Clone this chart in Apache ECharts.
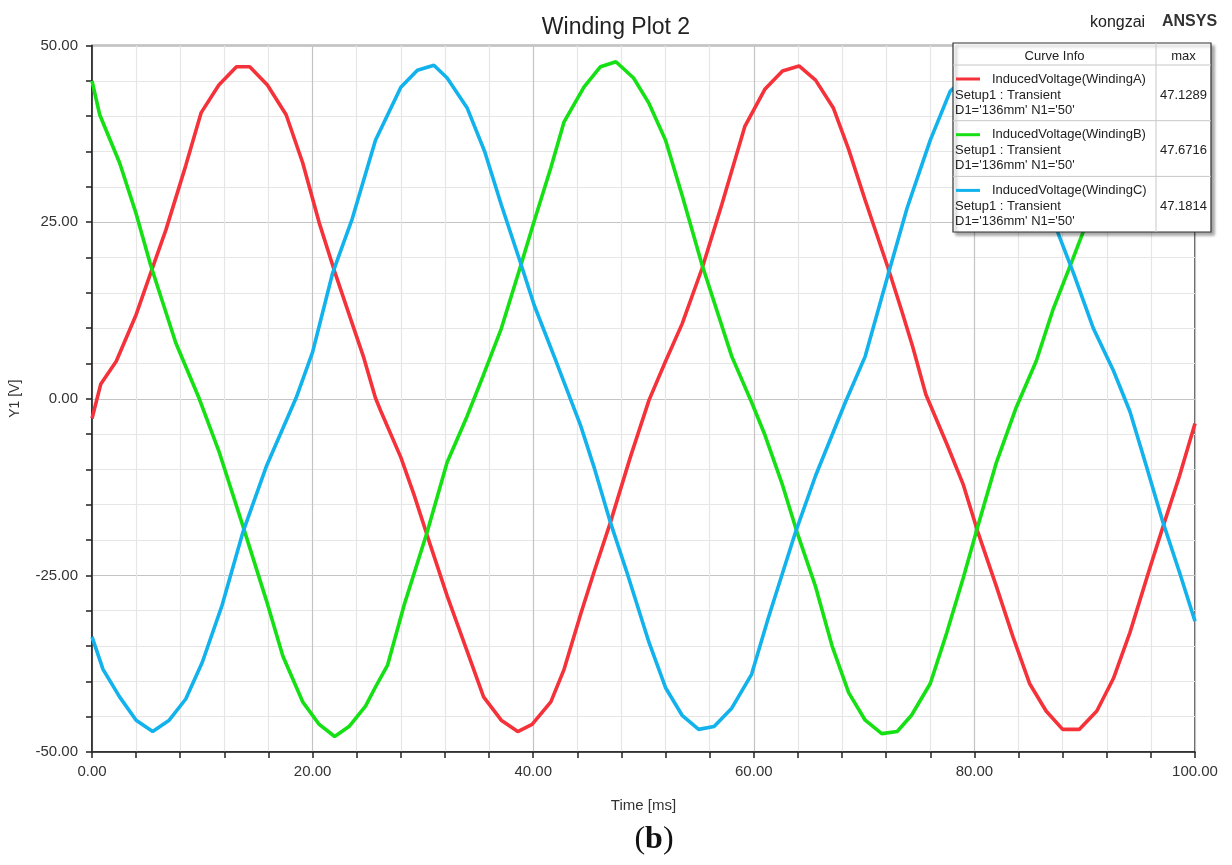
<!DOCTYPE html>
<html>
<head>
<meta charset="utf-8">
<title>Winding Plot 2</title>
<script src="https://cdn.jsdelivr.net/npm/echarts@6/dist/echarts.min.js"></script>
<style>
  html, body { margin: 0; padding: 0; background: #fff; }
  #chart { width: 1232px; height: 865px; }
</style>
</head>
<body>
<div id="chart"></div>
<script>
// series names / legend rows
const seriesNames = ['InducedVoltage(WindingA)', 'InducedVoltage(WindingB)', 'InducedVoltage(WindingC)']
const seriesColors = ['#f5323a', '#14e014', '#12b2ec']
const setupLine = 'Setup1 : Transient'
const paramLine = "D1='136mm' N1='50'"
const maxValues = ['47.1289', '47.6716', '47.1814']

// [time ms, voltage V]
const windingA = [
  [0, -2.8], [0.8, 2.1], [2.2, 5.3], [4.0, 11.9], [5.3, 17.7], [6.7, 23.9], [8.5, 33.0],
  [9.9, 40.5], [11.5, 44.4], [13.1, 47.0], [14.3, 47.0], [15.9, 44.4], [17.6, 40.2],
  [19.1, 33.4], [20.6, 24.9], [22.0, 18.0], [23.6, 10.6], [24.6, 6.0], [25.7, 0.1],
  [26.2, -1.8], [28.0, -8.3], [29.2, -13.6], [30.4, -19.4], [32.2, -27.9], [34.0, -35.7],
  [35.5, -42.2], [37.1, -45.5], [38.6, -47.1], [39.9, -46.1], [41.6, -42.9], [42.8, -38.3],
  [44.3, -30.5], [45.5, -24.6], [47.0, -17.5], [48.8, -8.3], [50.5, -0.2], [52.0, 5.3],
  [53.5, 10.6], [55.3, 18.4], [57.1, 27.5], [59.2, 38.6], [61.0, 43.8], [62.6, 46.4],
  [64.1, 47.1], [65.6, 45.1], [67.2, 41.2], [68.6, 35.3], [70.1, 28.1], [72.2, 18.4],
  [73.4, 12.5], [74.4, 7.4], [75.6, 0.6], [77.5, -6.4], [79.0, -12.2], [80.3, -18.8],
  [82.0, -26.6], [83.5, -33.7], [85.0, -40.3], [86.5, -44.2], [88.0, -46.8], [89.5, -46.8],
  [91.1, -44.2], [92.6, -39.6], [94.1, -33.1], [95.9, -24.0], [97.1, -18.1], [98.6, -10.9],
  [100, -3.5]
]
const windingB = [
  [0, 45.0], [0.7, 40.2], [2.5, 33.4], [4.0, 26.2], [5.3, 19.0], [7.6, 7.9], [9.7, 0.1],
  [11.5, -7.4], [13.7, -18.1], [15.8, -28.5], [17.3, -36.4], [19.1, -42.9], [20.6, -46.1],
  [22.0, -47.8], [23.3, -46.4], [24.8, -43.5], [25.7, -40.8], [26.8, -37.7], [28.3, -29.2],
  [30.4, -18.8], [32.2, -9.0], [34.0, -2.5], [35.5, 3.4], [37.1, 9.9], [38.9, 19.0],
  [40.1, 25.2], [41.6, 32.7], [42.8, 39.2], [44.6, 44.1], [46.1, 47.0], [47.5, 47.7],
  [49.1, 45.4], [50.5, 41.8], [52.0, 36.6], [53.5, 28.8], [55.3, 19.0], [58.0, 6.0],
  [59.8, -0.5], [61.0, -5.1], [62.6, -12.2], [63.9, -18.8], [65.6, -26.6], [67.1, -35.0],
  [68.6, -41.6], [70.1, -45.5], [71.6, -47.4], [73.0, -47.1], [74.3, -44.8], [76.0, -40.3],
  [77.5, -33.1], [79.0, -25.3], [80.3, -18.1], [82.0, -9.0], [83.8, -1.2], [85.6, 5.3],
  [87.1, 12.5], [88.9, 19.7], [90.0, 24.2], [91.5, 31.0], [93.0, 38.0], [94.5, 43.0],
  [96.0, 46.0], [97.5, 47.6], [99.0, 46.0], [100, 44.0]
]
const windingC = [
  [0, -33.7], [1.0, -38.3], [2.5, -42.2], [4.0, -45.5], [5.5, -47.1], [7.0, -45.5],
  [8.5, -42.5], [10.0, -37.3], [11.8, -29.2], [13.7, -18.8], [15.8, -9.6], [18.5, 0.1],
  [20.0, 6.6], [21.8, 17.7], [23.6, 25.5], [25.7, 36.6], [28.0, 44.1], [29.5, 46.5],
  [31.0, 47.2], [32.2, 45.4], [34.0, 41.2], [35.6, 35.0], [37.1, 27.5], [38.9, 19.0],
  [40.1, 13.2], [41.9, 6.0], [44.3, -3.8], [45.5, -9.6], [47.0, -17.5], [48.5, -24.6],
  [50.5, -34.5], [52.0, -40.9], [53.5, -44.8], [55.0, -46.8], [56.4, -46.4], [58.0, -43.8],
  [59.8, -39.0], [61.3, -31.1], [63.8, -18.8], [65.6, -10.9], [68.3, -0.5], [70.1, 6.0],
  [72.2, 17.7], [73.9, 27.0], [76.0, 36.6], [77.8, 43.5], [79.5, 46.0], [81.0, 47.2],
  [82.5, 46.0], [84.0, 41.5], [85.5, 34.5], [87.4, 24.2], [89.0, 17.7], [90.8, 9.9],
  [92.6, 4.0], [94.1, -1.8], [95.6, -9.6], [97.1, -17.5], [98.6, -24.6], [100, -31.5]
]
const seriesData = [windingA, windingB, windingC]

const font = "'Liberation Sans', Arial, sans-serif"
const serif = '"Liberation Serif", "Times New Roman", serif'
const chart = echarts.init(document.getElementById('chart'))

// legend table box (Curve Info | max) on its own layer so it covers the curves
const box = { x: 953, y: 43, w: 258, h: 189, col: 1156, head: 65, row: 55.7 }
const layer = { zlevel: 1, z: 10 }
const boxGraphics = [
  {
    type: 'rect', ...layer,
    shape: { x: box.x, y: box.y, width: box.w, height: box.h },
    style: { fill: '#fff', stroke: '#333', lineWidth: 1.2, shadowBlur: 3, shadowOffsetX: 3, shadowOffsetY: 3, shadowColor: 'rgba(0,0,0,0.35)' }
  },
  { type: 'line', ...layer, shape: { x1: box.col, y1: box.y, x2: box.col, y2: box.y + box.h }, style: { stroke: '#c8c8c8', lineWidth: 1 } },
  { type: 'line', ...layer, shape: { x1: box.x, y1: box.head, x2: box.x + box.w, y2: box.head }, style: { stroke: '#c8c8c8', lineWidth: 1 } },
  { type: 'text', ...layer, x: (box.x + box.col) / 2, y: 56, style: { text: 'Curve Info', font: '13px ' + font, fill: '#222', align: 'center', verticalAlign: 'middle' } },
  { type: 'text', ...layer, x: (box.col + box.x + box.w) / 2, y: 56, style: { text: 'max', font: '13px ' + font, fill: '#222', align: 'center', verticalAlign: 'middle' } }
]
seriesNames.forEach((n, i) => {
  const rowTop = box.head + i * box.row
  if (i > 0) {
    boxGraphics.push({ type: 'line', ...layer, shape: { x1: box.x, y1: rowTop, x2: box.x + box.w, y2: rowTop }, style: { stroke: '#c8c8c8', lineWidth: 1 } })
  }
  boxGraphics.push(
    { type: 'text', ...layer, x: 955, y: rowTop + 30, style: { text: setupLine, font: '13px ' + font, fill: '#222', verticalAlign: 'middle' } },
    { type: 'text', ...layer, x: 955, y: rowTop + 45, style: { text: paramLine, font: '13px ' + font, fill: '#222', verticalAlign: 'middle' } },
    { type: 'text', ...layer, x: (box.col + box.x + box.w) / 2, y: rowTop + 30, style: { text: maxValues[i], font: '13px ' + font, fill: '#222', align: 'center', verticalAlign: 'middle' } }
  )
})

const option = {
  animation: false,
  backgroundColor: '#fff',
  textStyle: { fontFamily: font },
  title: {
    text: 'Winding Plot 2',
    left: 611, top: 11, textAlign: 'center',
    textStyle: { fontSize: 23, fontWeight: 'normal', color: '#222', fontFamily: font }
  },
  grid: {
    left: 90.5, right: 37, top: 45.5, bottom: 113,
    show: true, borderColor: '#333', borderWidth: 1.5, backgroundColor: 'transparent'
  },
  legend: {
    data: seriesNames,
    orient: 'vertical',
    left: 956, top: 72,
    padding: 0,
    itemGap: 41.7,
    itemWidth: 24, itemHeight: 3,
    icon: 'rect',
    selectedMode: false,
    zlevel: 1, z: 30,
    textStyle: { fontSize: 13, lineHeight: 14, color: '#222', fontFamily: font, padding: [0, 0, 0, 7] }
  },
  xAxis: {
    type: 'value',
    min: 0, max: 100, interval: 20,
    name: 'Time [ms]', nameLocation: 'middle', nameGap: 46,
    nameTextStyle: { fontSize: 15, color: '#333' },
    axisLine: { onZero: false, lineStyle: { color: '#222', width: 1.5 } },
    axisTick: { length: 6, lineStyle: { color: '#222', width: 1.5 } },
    minorTick: { show: true, splitNumber: 5, length: 6, lineStyle: { color: '#222', width: 1.5 } },
    axisLabel: { fontSize: 15, color: '#333', margin: 12, formatter: v => v.toFixed(2) },
    splitLine: { lineStyle: { color: '#c4c4c4', width: 1.2 } },
    minorSplitLine: { show: true, lineStyle: { color: '#e6e6e6', width: 1.2 } }
  },
  yAxis: {
    type: 'value',
    min: -50, max: 50, interval: 25,
    name: 'Y1 [V]', nameLocation: 'middle', nameGap: 70, nameRotate: 90,
    nameTextStyle: { fontSize: 14, color: '#333' },
    axisLine: { onZero: false, lineStyle: { color: '#222', width: 1.5 } },
    axisTick: { length: 6, lineStyle: { color: '#222', width: 1.5 } },
    minorTick: { show: true, splitNumber: 5, length: 6, lineStyle: { color: '#222', width: 1.5 } },
    axisLabel: { fontSize: 15, color: '#333', margin: 14, formatter: v => v.toFixed(2) },
    splitLine: { lineStyle: { color: '#c4c4c4', width: 1.2 } },
    minorSplitLine: { show: true, lineStyle: { color: '#e6e6e6', width: 1.2 } }
  },
  graphic: [
    ...boxGraphics,
    { type: 'text', left: 1090, top: 15, style: { text: 'kongzai', font: '16px ' + font, fill: '#222' } },
    { type: 'text', left: 1162, top: 14, style: { text: 'ANSYS', font: 'bold 16px ' + font, fill: '#333' } },
    {
      type: 'text', x: 654, y: 840,
      style: {
        text: '({b|b})',
        font: '32px ' + serif,
        fill: '#111', align: 'center', verticalAlign: 'middle',
        rich: { b: { fontWeight: 'bold', fontSize: 32, fontFamily: serif } }
      }
    }
  ],
  series: seriesData.map((d, i) => ({
    name: seriesNames[i],
    type: 'line',
    data: d,
    color: seriesColors[i],
    showSymbol: false,
    smooth: false,
    lineStyle: { width: 3.6, color: seriesColors[i] }
  }))
}
chart.setOption(option)
</script>
</body>
</html>
